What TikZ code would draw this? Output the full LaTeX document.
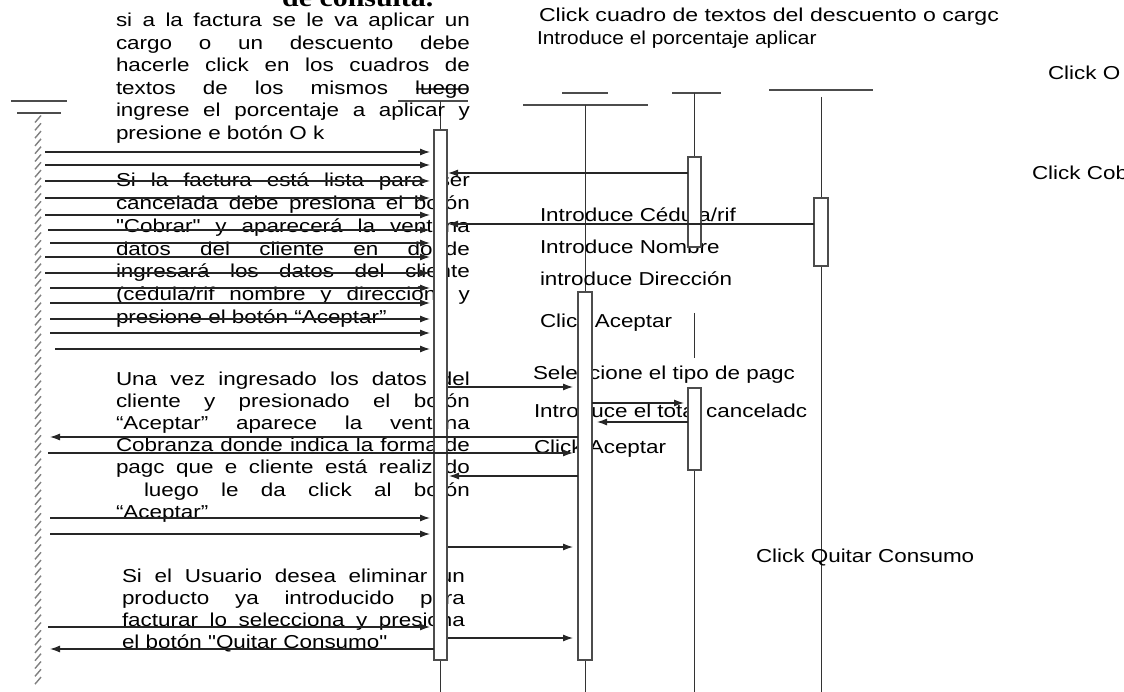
\documentclass[tikz,border=0pt]{standalone}
\usepackage{graphicx}
\usepackage{fontspec}
\setmainfont{Liberation Sans}[FakeStretch=1.2]
\newfontfamily\qfont{Liberation Sans}[FakeStretch=1.2,Ligatures=TeXOff]
\newfontfamily\headserif{Liberation Serif}[FakeStretch=1.15]
\newcommand\sq{{\qfont\symbol{34}}}
\usetikzlibrary{arrows.meta}
\newcommand\jl[4]{\node[txt] (#1) at (#2) {\makebox[#3][s]{#4}};}
\begin{document}
\begin{tikzpicture}[x=1pt,y=-1pt,
  hd/.style={draw=black!70,line width=1.1pt},
  ln/.style={draw=black!80,line width=1pt},
  actbox/.style={draw=black!70,fill=white,line width=1.2pt},
  msg/.style={draw=black!85,line width=1.1pt,-{Latex[length=10pt,width=7pt]}},
  hatch/.style={draw=black!50,line width=1.4pt},
  txt/.style={anchor=base west,inner sep=0pt,outer sep=0pt,font=\fontsize{18.7}{22}\selectfont},
]
\useasboundingbox (0,0) rectangle (1124,692);
\clip (0,0) rectangle (1124,692);

% ---- heading (cut at top)
\node[anchor=base west,inner sep=0pt,font=\headserif\bfseries\fontsize{26}{30}\selectfont] (head) at (282,7) {de consulta.};

% ---- lifeline heads
\draw[hd] (11,101) -- (67,101);
\draw[hd] (17,113) -- (61,113);
\draw[hd] (416,89) -- (467,89);
\draw[hd] (398,101) -- (468,101);
\draw[hd] (562,93) -- (608,93);
\draw[hd] (523,105) -- (648,105);
\draw[hd] (672,93) -- (721,93);
\draw[hd] (769,90) -- (873,90);

% ---- actor lifeline (hatched)
\foreach \k in {0,...,72}
  \draw[hatch] (35,{119+\k*7.8+3.5}) -- (41,{119+\k*7.8-3.5});

% ---- lifelines
\coordinate (l1t) at (440,101);  \coordinate (l1b) at (440,692);
\coordinate (l2t) at (585,105);  \coordinate (l2b) at (585,692);
\coordinate (l4t) at (821,97);   \coordinate (l4b) at (821,692);
\draw[ln] (l1t) -- (l1b);
\draw[ln] (l2t) -- (l2b);
\draw[ln] (l4t) -- (l4b);
\draw[ln] (694,93) -- (694,157);
\draw[ln] (694,313) -- (694,358);
\draw[ln] (694,470) -- (694,692);

% ---- left text blocks
\jl{a1}{116,27}{354pt}{si a la factura se le va aplicar un}
\jl{a2}{116,49.5}{354pt}{cargo o un descuento debe}
\jl{a3}{116,72}{354pt}{hacerle click en los cuadros de}
\jl{a4}{116,94.5}{354pt}{textos de los mismos luego}
\jl{a5}{116,117}{354pt}{ingrese el porcentaje a aplicar y}
\node[txt] (a6) at (116,139.5) {presione e botón O k};

\jl{b1}{116,187}{354pt}{Si la factura está lista para ser}
\jl{b2}{116,210}{354pt}{cancelada debe presiona el botón}
\jl{b3}{116,232.5}{354pt}{\sq Cobrar\sq{} y aparecerá la ventana}
\jl{b4}{116,255.5}{354pt}{datos del cliente en donde}
\jl{b5}{116,278}{354pt}{ingresará los datos del cliente}
\jl{b6}{116,301}{354pt}{(cédula/rif nombre y dirección) y}
\node[txt] (b7) at (116,324) {presione el botón “Aceptar”};

\jl{c1}{116,385.5}{354pt}{Una vez ingresado los datos del}
\jl{c2}{116,407.5}{354pt}{cliente y presionado el botón}
\jl{c3}{116,429.5}{354pt}{“Aceptar” aparece la ventana}
\jl{c4}{116,451.5}{354pt}{Cobranza donde indica la forma de}
\jl{c5}{116,473.5}{354pt}{pagc que e cliente está realizado}
\jl{c6}{116,496.5}{354pt}{\hspace*{28pt}luego le da click al botón}
\node[txt] (c7) at (116,518.5) {“Aceptar”};

\jl{d1}{122,582.5}{343pt}{Si el Usuario desea eliminar un}
\jl{d2}{122,604}{343pt}{producto ya introducido para}
\jl{d3}{122,626}{343pt}{facturar lo selecciona y presiona}
\node[txt] (d4) at (122,648.5) {el botón \sq Quitar Consumo\sq};

% ---- right labels
\node[txt] (r1) at (539,21.7) {\scalebox{1.03}[1]{Click cuadro de textos del descuento o cargc}};
\node[txt] (r2) at (537,45) {\scalebox{0.93}[1]{Introduce el porcentaje aplicar}};
\node[txt] (r3) at (1048,80) {Click O};
\node[txt] (r4) at (1032,180) {Click Cobrar};
\node[txt] (r5) at (540,222) {Introduce Cédula/rif};
\node[txt] (r6) at (540,254) {Introduce Nombre};
\node[txt] (r7) at (540,286) {introduce Dirección};
\node[txt] (r8) at (540,328) {Click Aceptar};
\node[txt] (r9) at (533,380) {Seleccione el tipo de pagc};
\node[txt] (r10) at (534,417) {Introduce el total canceladc};
\node[txt] (r11) at (534,453) {Click Aceptar};
\node[txt] (r12) at (756,562) {Click Quitar Consumo};

% ---- activation boxes
\draw[actbox] (434,130) rectangle (447,660);
\draw[actbox] (578,292) rectangle (592,660);
\draw[actbox] (688,157) rectangle (701,247);
\draw[actbox] (688,388) rectangle (701,470);
\draw[actbox] (814,198) rectangle (828,266);

% ---- messages
\foreach \xs/\yy in {45/152,45/165,45/181,45/198,45/215,48/230,50/243,45/257,45/273,50/288,50/303,50/319,50/333,55/349,50/518,50/534,48/627}
  \draw[msg] (\xs,\yy) -- (430,\yy);
\draw[msg] (688,173) -- (448,173);
\draw[msg] (814,224) -- (448,224);
\draw[msg] (448,387) -- (573,387);
\draw[msg] (592,403) -- (684,403);
\draw[msg] (688,422) -- (597,422);
\draw[msg] (578,437) -- (50,437);
\draw[msg] (48,453) -- (573,453);
\draw[msg] (578,476) -- (449,476);
\draw[msg] (448,547) -- (573,547);
\draw[msg] (448,638) -- (573,638);
\draw[msg] (434,649) -- (50,649);
\end{tikzpicture}
\end{document}
